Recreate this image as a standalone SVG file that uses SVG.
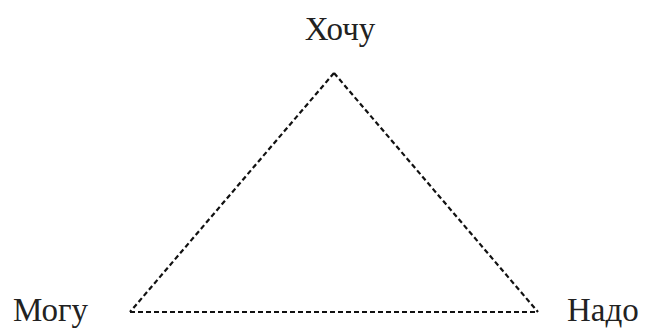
<svg xmlns="http://www.w3.org/2000/svg" width="648" height="329" viewBox="0 0 648 329">
<style>
.lbl{font-family:"Liberation Serif","DejaVu Serif","Noto Serif",serif;font-size:33px;fill:#222}
.edge{stroke:#111;stroke-width:2.2;stroke-dasharray:5,3;fill:none}
</style>
<rect width="648" height="329" fill="#fff"/>
<g id="connectors">
<line class="edge" x1="334" y1="73" x2="130" y2="312"/>
<line class="edge" x1="334" y1="73" x2="538" y2="312"/>
<line class="edge" x1="130" y1="312" x2="538" y2="312"/>
</g>
<g id="node-hochu"><text class="lbl" x="340" y="40" text-anchor="middle">Хочу</text></g>
<g id="node-mogu"><text class="lbl" x="13" y="321">Могу</text></g>
<g id="node-nado"><text class="lbl" x="567" y="321">Надо</text></g>
</svg>
